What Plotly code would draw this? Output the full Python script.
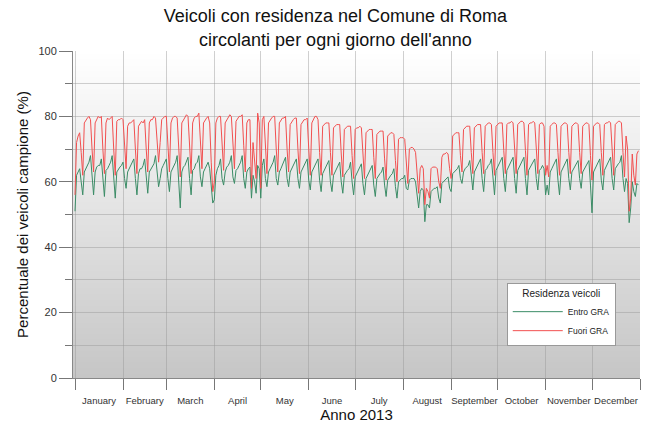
import base64
import struct
import zlib

import plotly.graph_objects as go

month_labels = ["January", "February", "March", "April", "May", "June",
                "July", "August", "September", "October", "November", "December"]
month_lengths = [31, 28, 31, 30, 31, 30, 31, 31, 30, 31, 30, 31]

# Fuori GRA (%), daily 2013; rows are weeks Mon..Sun (first row Tue 1 Jan .. Sun 6 Jan)
fuori_gra = [
    56, 72, 74, 75, 69, 62,
    78, 79, 79.5, 80, 79, 70, 63,
    78, 79, 80, 79.5, 80, 70, 62.5,
    78, 79.5, 79, 79.5, 80, 70, 62,
    78.5, 79, 79, 79.5, 79, 71, 64,
    77, 78, 78, 78.5, 79, 70, 62.5,
    77, 78, 78.5, 78, 79, 70, 63,
    78, 79, 79, 80, 79.5, 71, 66,
    72, 79, 79.5, 80, 80, 70, 63,
    78, 79.5, 80, 80, 79.5, 69, 61.5,
    78, 79, 80, 80.5, 80, 70, 62.5,
    78, 79.5, 80, 80, 81, 71, 64,
    78, 79, 79.5, 80, 78, 66, 57,
    60, 78, 79.5, 80, 80, 70, 63.5,
    78, 79, 80, 80.5, 80, 70.5, 64,
    78.5, 79.5, 80, 80, 80.5, 71, 63,
    78, 79, 79, 58, 72, 66, 61,
    81, 78, 58, 79, 80, 70, 62.5,
    78, 79, 79.5, 80, 80, 70, 63,
    78, 79, 79.5, 79.5, 80, 70, 63,
    77.5, 78.5, 79, 79.5, 79.5, 70, 62.5,
    77.5, 78.5, 79, 79, 79.5, 70, 62,
    78, 79, 80, 80, 79, 69, 62,
    77, 77.5, 78, 78, 78, 69, 62,
    76.5, 77, 77.5, 77.5, 77.5, 68.5, 61.5,
    76, 76.5, 77, 77, 77, 68, 61,
    76, 76.5, 76.5, 77, 76.5, 68, 61,
    75, 75.5, 76, 76, 76, 67.5, 61,
    74.5, 75, 75.5, 75.5, 75.5, 67, 60.5,
    74, 74.5, 75, 75, 74.5, 66.5, 60,
    73, 73.5, 73.5, 73.5, 73, 65, 59.5,
    70, 70.5, 70.5, 70, 69, 62, 56.5,
    64, 65, 64, 53, 58, 57, 55,
    64, 64.5, 64.5, 64.5, 64, 60, 58,
    67.5, 68.5, 68.5, 69, 68.5, 64, 61,
    74, 74.5, 75, 75, 75, 68, 63,
    76, 76.5, 77, 77, 77, 69, 62.5,
    76.5, 77, 77.5, 77.5, 77.5, 69, 62.5,
    77, 77.5, 78, 78, 77.5, 69, 62,
    77, 77.5, 78, 78, 78, 69.5, 62.5,
    77.5, 78, 78, 78.5, 78, 69.5, 62.5,
    77.5, 78, 78.5, 78.5, 78, 69.5, 62,
    77.5, 78, 78, 78.5, 78, 69.5, 62.5,
    77.5, 78, 78, 77, 62, 65, 61.5,
    77, 77.5, 78, 78, 77.5, 69, 62,
    77, 77.5, 78, 78, 77.5, 69, 62.5,
    77, 77.5, 78, 78, 77.5, 69, 62.5,
    77, 77.5, 78, 78, 77.5, 68, 60.5,
    77, 77.5, 78, 78, 77.5, 69, 62,
    77.5, 78, 78, 78.5, 78, 69, 62,
    77.5, 78, 78.5, 78.5, 78, 69, 61.5,
    74, 70, 51, 55, 68.5, 62, 59,
    68.5, 69.5,
]

# Entro GRA (%), same layout
entro_gra = [
    51, 62, 63, 64, 60, 56,
    63, 64, 65, 66, 68, 61, 56,
    63, 64.5, 65, 65, 67, 61, 55.5,
    63.5, 64, 65, 66, 68, 61, 55,
    63, 64, 64.5, 65, 66, 61, 58,
    63, 64, 65, 66, 67, 61, 56,
    62.5, 64, 64, 65, 67, 61, 56.5,
    63, 64, 65, 65.5, 68, 62, 58.5,
    61, 64, 65, 66, 67, 61, 57,
    63, 64, 65, 66, 68, 60, 52,
    63, 64.5, 65, 66, 67.5, 61, 56,
    63.5, 64, 65.5, 66, 68, 61.5, 58.5,
    63, 64, 65, 66, 64, 58, 53.5,
    54.5, 62, 64, 65, 67, 61, 59,
    63, 64.5, 65, 66, 68, 61.5, 59.5,
    63.5, 64, 65, 66, 68, 61, 58,
    63, 64, 64.5, 55, 62, 60, 56.5,
    65, 64, 55, 65, 67, 61, 58.5,
    63, 64, 65, 66, 68, 61, 59,
    63, 64, 65, 66, 67.5, 61, 58.5,
    63, 64, 65, 65.5, 67, 61, 58,
    63, 64, 64.5, 65.5, 67, 60.5, 57.5,
    63, 64, 65, 65.5, 67, 60.5, 57,
    62.5, 63.5, 64, 65, 66.5, 60, 57,
    62, 63, 64, 64.5, 66, 60, 56.5,
    62, 63, 63.5, 64, 66, 60, 56,
    61.5, 62.5, 63, 64, 65.5, 59.5, 56,
    61, 62, 63, 63.5, 65, 59, 55.5,
    61, 62, 62.5, 63, 64.5, 59, 55.5,
    60.5, 61.5, 62, 62.5, 64, 58.5, 55,
    60, 60.5, 61, 61, 62, 58, 57.5,
    60.5, 61, 61, 61, 60, 56, 52,
    57, 58, 57.5, 47.8, 53, 53, 52,
    57, 57.5, 58, 58, 58.5, 55, 53.5,
    59.5, 60, 60.5, 61, 61.5, 58, 57,
    62.5, 63, 63.5, 64, 65, 61, 59.5,
    63, 64, 64.5, 65, 66.5, 61, 57.5,
    63, 64, 65, 65.5, 67, 61, 57,
    63.5, 64, 65, 65.5, 67, 60.5, 56,
    63.5, 64.5, 65, 66, 67.5, 61, 57,
    63.5, 64.5, 65, 66, 67.5, 61, 56.5,
    63.5, 64.5, 65, 66, 67.5, 61, 56,
    63.5, 64.5, 65, 66, 67, 61, 57.5,
    63.5, 64, 65, 64, 56, 59, 56,
    63, 64, 65, 65.5, 67, 60.5, 56,
    63, 64, 65, 65.5, 67, 61, 57.5,
    63, 64, 65, 65.5, 66.5, 61, 58,
    63, 64, 65, 65.5, 66.5, 59, 50.5,
    63, 64, 65, 65.5, 67, 60.5, 57.5,
    63.5, 64.5, 65, 66, 67.5, 61, 57.5,
    64, 65, 65.5, 66, 68, 61, 57,
    61, 59.5, 47.5, 52, 60, 57, 55.5,
    59.5, 59,
]

days = list(range(len(fuori_gra)))
month_starts = [sum(month_lengths[:i]) for i in range(13)]
month_mids = [(month_starts[i] + month_starts[i + 1]) / 2 for i in range(12)]


def gradient_png(height=256, top=255, bottom=198):
    """1-pixel-wide grayscale PNG, white at top fading to gray at bottom."""
    rows = b""
    for r in range(height):
        v = int(round(top + (bottom - top) * r / (height - 1)))
        rows += b"\x00" + bytes([v])

    def chunk(tag, data):
        c = tag + data
        return struct.pack(">I", len(data)) + c + struct.pack(">I", zlib.crc32(c) & 0xffffffff)

    png = b"\x89PNG\r\n\x1a\n"
    png += chunk(b"IHDR", struct.pack(">IIBBBBB", 1, height, 8, 0, 0, 0, 0))
    png += chunk(b"IDAT", zlib.compress(rows))
    png += chunk(b"IEND", b"")
    return "data:image/png;base64," + base64.b64encode(png).decode()


fig = go.Figure()
fig.add_trace(go.Scatter(x=days, y=entro_gra, mode="lines", name="Entro GRA",
                         line=dict(color="#3b8c66", width=1)))
fig.add_trace(go.Scatter(x=days, y=fuori_gra, mode="lines", name="Fuori GRA",
                         line=dict(color="#f25050", width=1)))

fig.add_layout_image(dict(source=gradient_png(), xref="paper", yref="paper",
                          x=0, y=1, sizex=1, sizey=1, xanchor="left", yanchor="top",
                          sizing="stretch", layer="below"))

grid = "rgba(150,150,150,0.45)"
fig.update_layout(
    width=645, height=423,
    margin=dict(l=73, r=5, t=51, b=45, autoexpand=False),
    paper_bgcolor="white", plot_bgcolor="rgba(0,0,0,0)",
    font=dict(family="Arial, 'Liberation Sans', sans-serif", color="#222"),
    title=dict(text="Veicoli con residenza nel Comune di Roma<br>circolanti per ogni giorno dell'anno",
               x=0.52, xanchor="center", y=0.947, yanchor="top",
               font=dict(size=18, color="#111")),
    showlegend=True,
    legend=dict(x=0.765, y=0.29, xanchor="left", yanchor="top",
                bgcolor="white", bordercolor="#999", borderwidth=1,
                title=dict(text="Residenza veicoli", side="top center", font=dict(size=10)),
                font=dict(size=8.5), itemwidth=50, tracegroupgap=0),
)
fig.update_xaxes(
    range=[-1.3, 365], tickmode="array", tickvals=month_mids, ticktext=month_labels,
    ticks="outside", ticklen=14, tickcolor="rgba(0,0,0,0)", tickangle=0,
    tickfont=dict(size=9.5, color="#333"), automargin=False,
    showgrid=False, zeroline=False, showline=True, linecolor="#888",
    minor=dict(tickmode="array", tickvals=month_starts, ticks="outside", ticklen=11,
               tickcolor="#777", showgrid=True, gridcolor=grid, gridwidth=1),
    title=dict(text="Anno 2013", font=dict(size=15, color="#111"), standoff=1),
)
fig.update_yaxes(
    range=[0, 100], tickmode="linear", tick0=0, dtick=20,
    ticks="outside", ticklen=13, tickcolor="#777",
    tickfont=dict(size=11, color="#333"), automargin=False,
    showgrid=True, gridcolor=grid, gridwidth=1, zeroline=False,
    showline=True, linecolor="#888",
    minor=dict(dtick=10, ticks="outside", ticklen=7, tickcolor="#777",
               showgrid=True, gridcolor=grid, gridwidth=1),
    title=dict(text="Percentuale dei veicoli campione (%)", font=dict(size=15, color="#111"), standoff=6),
)

fig.write_html("out.html", config={"displayModeBar": False},
               post_script="document.body.style.margin='0';")
